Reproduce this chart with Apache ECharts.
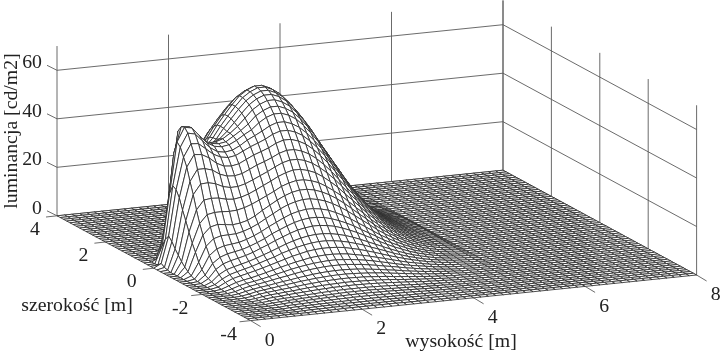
<!DOCTYPE html>
<html>
<head>
<meta charset="utf-8">
<script src="https://cdn.jsdelivr.net/npm/echarts@6/dist/echarts.min.js"></script>
<style>
html,body{margin:0;padding:0;background:#fff;}
#chart{width:720px;height:352px;}
</style>
</head>
<body>
<div id="chart"></div>
<script>
var heightTicks=[0,2,4,6,8];
var widthTicks=[4,2,0,-2,-4];
var lumTicks=[0,20,40,60];
var lumTop=70;
var heightSteps=60;
var widthSteps=60;

//luminance, one row per width (4 down to -4, step 8/60), one value per height step (8/60), missing tail = 0
var r00=[];
var r01=[0,0,0,0,0,0,0,0,0,0,0,0,0,0,0,0,0,0.3,0.8,1,0.9,0.9,0.8,0.8,0.7,0.6,0.5,0.4,0.4,0.3,0.3,0.2,0.2,0.1,0.1];
var r02=[0,0,0,0,0,0,0,0,0,0,0,0,0,0,0,0,0.2,0.9,1.5,1.5,1.4,1.3,1.3,1.1,1,0.9,0.8,0.7,0.6,0.5,0.4,0.3,0.2,0.2,0.1,0.1];
var r03=[0,0,0,0,0,0,0,0,0,0,0,0,0,0,0,0,0.8,1.8,2.2,2.2,2.1,2,1.8,1.7,1.5,1.3,1.2,1,0.8,0.7,0.6,0.4,0.3,0.3,0.2,0.1,0.1,0.1];
var r04=[0,0,0,0,0,0,0,0,0,0,0,0,0,0,0,0.5,1.8,3,3,2.9,2.8,2.7,2.5,2.3,2.1,1.8,1.6,1.3,1.1,0.9,0.8,0.6,0.5,0.4,0.3,0.2,0.1,0.1,0.1];
var r05=[0,0,0,0,0,0,0,0,0,0,0,0,0,0,0.2,1.7,3.6,4.2,4.2,4.1,4,3.8,3.5,3.2,2.9,2.5,2.2,1.9,1.6,1.3,1.1,0.8,0.7,0.5,0.4,0.3,0.2,0.1,0.1];
var r06=[0,0,0,0,0,0,0,0,0,0,0,0,0,0,1.1,3.7,5.5,5.7,5.7,5.6,5.4,5.1,4.8,4.4,3.9,3.5,3,2.5,2.1,1.8,1.4,1.1,0.9,0.7,0.5,0.4,0.3,0.2,0.1];
var r07=[0,0,0,0,0,0,0,0,0,0,0,0,0,0.3,3.1,6.4,7.4,7.5,7.5,7.4,7.1,6.7,6.3,5.7,5.1,4.6,4,3.4,2.8,2.3,1.9,1.5,1.2,0.9,0.7,0.5,0.4,0.3,0.2];
var r08=[0,0,0,0,0,0,0,0,0,0,0,0,0,2.1,6.7,9.4,9.7,9.9,9.9,9.7,9.4,8.9,8.3,7.6,6.8,6,5.2,4.4,3.7,3.1,2.5,2,1.5,1.2,0.9,0.7,0.5,0.3,0.2];
var r09=[0,0,0,0,0,0,0,0,0,0,0,0,0.8,5.3,10.7,12,12.4,12.7,12.7,12.4,12,11.4,10.6,9.7,8.7,7.7,6.7,5.7,4.8,3.9,3.2,2.5,2,1.5,1.1,0.8,0.6,0.4,0.3];
var r10=[0,0,0,0,0,0,0,0,0,0,0,0,3.4,10,14.2,15.1,15.6,15.9,15.9,15.6,15.1,14.2,13.3,12.2,10.9,9.7,8.4,7.1,6,4.9,4,3.1,2.5,1.9,1.4,1,0.8,0.5,0.4];
var r11=[0,0,0,0,0,0,0,0,0,0,0,1.8,8.6,15.9,17.7,18.8,19.4,19.8,19.8,19.4,18.8,17.7,16.5,15.2,13.6,12,10.5,8.9,7.4,6.1,5,3.9,3.1,2.3,1.8,1.3,1,0.7,0.5];
var r12=[0,0,0,0,0,0,0,0,0,0,0,5.8,15.1,20,21.5,22.7,23.5,24,24,23.5,22.7,21.5,20,18.4,16.4,14.6,12.7,10.7,9,7.4,6,4.8,3.7,2.8,2.1,1.6,1.2,0.8,0.6];
var r13=[0,0,0,0,0,0,0,0,0,0,2.3,11.8,21.2,23.9,25.6,27.1,28,28.6,28.6,28,27.1,25.6,23.9,21.9,19.6,17.4,15.1,12.8,10.7,8.9,7.2,5.7,4.4,3.4,2.5,1.9,1.4,1,0.7];
var r14=[0,0,0,0,0,0,0,0,0,0,8,20.1,25.9,28.2,30.3,32,33.1,33.8,33.8,33.1,32,30.3,28.2,25.9,23.2,20.5,17.8,15.1,12.7,10.5,8.5,6.7,5.2,4,3,2.2,1.6,1.1,0.8];
var r15=[0,0,0,0,0,0,0,0,0,3.9,15.3,26.3,29.7,32.4,34.8,36.7,38,38.8,38.8,38,36.7,34.8,32.4,29.7,26.6,23.6,20.5,17.3,14.6,12,9.7,7.7,6,4.6,3.5,2.6,1.9,1.3,0.9];
var r16=[0,0,0,0,0,0,0,0,0.8,9.9,23.1,30,33.6,36.6,39.2,41.5,42.9,43.8,43.8,42.9,41.5,39.2,36.6,33.6,30,26.6,23.1,19.6,16.4,13.6,11,8.7,6.8,5.2,3.9,2.9,2.1,1.5,1.1];
var r17=[0,0,0,0,0,0,0,0,5.5,18.6,29.7,33.6,37.5,40.9,43.9,46.4,48,49,49,48,46.4,43.9,40.9,37.5,33.6,29.7,25.9,21.9,18.4,15.2,12.3,9.7,7.6,5.8,4.4,3.2,2.4,1.7,1.2];
var r18=[0,0,0,0,0,0,0,1.2,12.3,26.3,32.6,36.6,40.9,44.6,47.8,50.6,52.3,53.4,53.4,52.3,50.6,47.8,44.6,40.9,36.6,32.4,28.2,23.9,20,16.6,13.4,10.6,8.3,6.3,4.8,3.5,2.6,1.8,1.3];
var r19=[0,0,0,0,0,0,0,5.9,20.2,31.1,35.3,39.5,44,47.8,51.3,54.3,56.2,57.3,57.3,56.2,54.3,51.3,47.8,43.9,39.3,34.8,30.3,25.6,21.5,17.8,14.3,11.3,8.9,6.8,5.1,3.8,2.8,1.9,1.4];
var r20=[0,0,0,0,0,0,2.3,14.1,28.3,33.5,37.6,41.9,46.6,50.6,54.3,57.4,59.4,60.6,60.6,59.4,57.4,54.3,50.6,46.4,41.5,36.8,32,27.1,22.7,18.8,15.2,12,9.4,7.2,5.4,4,2.9,2.1,1.5];
var r21=[0,0,0,0,0,0,8,22.7,31.8,35.5,39.5,43.5,48.3,52.4,56.2,59.4,61.4,62.7,62.7,61.4,59.4,56.2,52.4,48,42.9,38.1,33.1,28,23.5,19.4,15.7,12.4,9.7,7.4,5.6,4.1,3,2.1,1.5];
var r22=[0,0,0,0,0,3.7,17.7,31.5,34.6,37.6,40.9,44.8,49.5,53.5,57.3,60.6,62.7,64,64,62.7,60.6,57.3,53.4,49,43.8,38.8,33.8,28.6,24,19.8,16,12.7,9.9,7.6,5.7,4.2,3.1,2.2,1.5];
var r23=[0,0,0,0,0,13.4,30.7,37,37.5,39.4,41.9,45.3,49.7,53.6,57.3,60.6,62.7,64,64,62.7,60.6,57.3,53.4,49,43.8,38.8,33.8,28.6,24,19.8,16,12.7,9.9,7.6,5.7,4.2,3.1,2.2,1.5];
var r24=[0,0,0,0,5.7,26.5,41.4,41.3,40.3,41,42.8,45.4,49.6,53.2,56.8,60,62.1,63.4,63.4,62.1,60,56.8,52.9,48.6,43.4,38.5,33.5,28.3,23.8,19.7,15.9,12.6,9.8,7.5,5.6,4.2,3,2.2,1.5];
var r25=[0,0,0,0,16.1,40.5,47.2,45.5,44,44,44.8,46.2,49,52.4,55.9,59.1,61.2,62.4,62.4,61.2,59.1,55.9,52.1,47.8,42.7,37.9,32.9,27.9,23.4,19.3,15.6,12.4,9.7,7.4,5.6,4.1,3,2.1,1.5];
var r26=[0,0,0,8.2,31.6,52.1,52.2,49.5,47,46,46,47,49,51.5,54.6,57.7,59.7,60.9,60.9,59.7,57.7,54.6,50.9,46.6,41.7,37,32.2,27.2,22.8,18.9,15.2,12.1,9.4,7.2,5.4,4,2.9,2.1,1.5];
var r27=[0,0,1.7,18,44,54.6,54.3,51,48,46.5,46,46.5,48.5,50.5,52.9,55.9,57.8,59,59,57.8,55.9,52.9,49.3,45.2,40.4,35.8,31.2,26.4,22.1,18.3,14.8,11.7,9.1,7,5.3,3.9,2.8,2,1.4];
var r28=[0,0,7,28.5,49.3,55.1,54.5,51,47.8,46,45.5,46,47.5,49.5,51.2,53.8,55.7,56.8,56.8,55.7,53.8,50.9,47.4,43.5,38.9,34.5,30,25.4,21.3,17.6,14.2,11.2,8.8,6.7,5.1,3.7,2.7,1.9,1.4];
var r29=[0,0.3,10.6,32.3,47.9,53.4,52.7,49.5,46.5,44.5,44,44.5,46,48,49.5,51.1,52.9,54,54,52.9,51.1,48.4,45.1,41.4,37,32.8,28.5,24.1,20.3,16.7,13.5,10.7,8.4,6.4,4.8,3.6,2.6,1.8,1.3];
var r30=[0,1.6,12.6,31.4,44.5,49.7,49.5,47,44.5,43,42.5,43,44.5,46,47.2,48.5,50.2,51.2,51.2,50.2,48.5,45.9,42.8,39.2,35.1,31.1,27,22.9,19.2,15.9,12.8,10.1,7.9,6,4.6,3.4,2.5,1.7,1.2];
var r31=[0,0.7,11,28.7,41.1,46,45.7,44,41.5,40,39.7,40.3,41.8,43.3,44.4,45.6,47.2,48.2,48.2,47.2,45.6,43.2,40.2,36.9,33,29.3,25.4,21.5,18.1,14.9,12.1,9.5,7.5,5.7,4.3,3.2,2.3,1.6,1.2];
var r32=[0,0.3,8.7,24.4,35.9,40.6,40.6,39.7,37.7,36.6,36.4,37,38.4,39.9,41,42.3,43.8,44.7,44.7,43.8,42.3,40.1,37.3,34.2,30.6,27.1,23.6,20,16.8,13.9,11.2,8.9,6.9,5.3,4,3,2.1,1.5,1.1];
var r33=[0,0,6.8,20.7,31.2,35.3,35.5,34.8,33.3,32.6,32.7,33.5,34.8,36.2,37.6,39.2,40.6,41.4,41.4,40.6,39.2,37.1,34.6,31.7,28.4,25.1,21.9,18.5,15.5,12.8,10.4,8.2,6.4,4.9,3.7,2.7,2,1.4,1];
var r34=[0,0,4.9,16.7,25.6,29.4,29.8,29.6,28.8,28.5,29,30,31.4,32.9,34.4,36,37.2,38,38,37.2,36,34,31.7,29.1,26,23.1,20.1,17,14.3,11.8,9.5,7.5,5.9,4.5,3.4,2.5,1.8,1.3,0.9];
var r35=[0,0,3.4,12.9,20.7,24.1,24.7,24.7,24.5,24.7,25.4,26.5,27.9,29.4,30.9,32.6,33.7,34.4,34.4,33.7,32.6,30.8,28.7,26.4,23.6,20.9,18.2,15.4,12.9,10.7,8.6,6.8,5.3,4.1,3.1,2.3,1.7,1.2,0.8];
var r36=[0,0,2.2,9.9,16.7,19.7,20.5,20.1,19.7,20.1,20.9,22.4,24.4,26.2,28,29.5,30.6,31.2,31.2,30.6,29.5,28,26.1,23.9,21.4,18.9,16.5,13.9,11.7,9.7,7.8,6.2,4.8,3.7,2.8,2.1,1.5,1.1,0.7];
var r37=[0,0,1.2,6.5,12.8,15.6,16.5,16.6,16.7,17.4,18.5,19.9,21.7,23.4,25.1,26.5,27.4,28,28,27.4,26.5,25.1,23.4,21.4,19.2,17,14.8,12.5,10.5,8.7,7,5.5,4.3,3.3,2.5,1.8,1.3,1,0.7];
var r38=[0,0,0.6,4.2,9.7,12.1,13.1,13.5,13.9,14.8,16,17.4,19.1,20.6,22.1,23.4,24.2,24.7,24.7,24.2,23.4,22.1,20.6,18.9,16.9,15,13,11,9.3,7.7,6.2,4.9,3.8,2.9,2.2,1.6,1.2,0.8,0.6];
var r39=[0,0,0.3,2.7,7.1,9.4,10.5,11.1,11.7,12.7,13.9,15.2,16.9,18.2,19.5,20.6,21.4,21.8,21.8,21.4,20.6,19.5,18.2,16.7,14.9,13.2,11.5,9.7,8.2,6.8,5.5,4.3,3.4,2.6,1.9,1.4,1,0.7,0.5];
var r40=[0,0,0.2,1.9,5.4,7.4,8.4,9.1,9.9,10.9,12.2,13.4,14.8,16,17.2,18.2,18.8,19.2,19.2,18.8,18.2,17.2,16,14.7,13.2,11.7,10.1,8.6,7.2,6,4.8,3.8,3,2.3,1.7,1.3,0.9,0.7,0.5];
var r41=[0,0,0,1.3,4,5.7,6.6,7.4,8.2,9.2,10.3,11.4,12.6,13.8,14.8,15.6,16.2,16.5,16.5,16.2,15.6,14.8,13.8,12.6,11.3,10,8.7,7.4,6.2,5.1,4.1,3.3,2.6,1.9,1.5,1.1,0.8,0.6,0.4];
var r42=[0,0,0,0.9,2.9,4.4,5.3,6.1,6.9,7.9,8.9,9.8,11,11.9,12.8,13.5,14,14.3,14.3,14,13.5,12.8,11.9,11,9.8,8.7,7.6,6.4,5.4,4.4,3.6,2.8,2.2,1.7,1.3,0.9,0.7,0.5,0.3];
var r43=[0,0,0,0.6,2.2,3.5,4.3,5,5.8,6.6,7.5,8.4,9.3,10.2,10.9,11.6,12,12.2,12.2,12,11.6,10.9,10.2,9.3,8.4,7.4,6.4,5.5,4.6,3.8,3.1,2.4,1.9,1.4,1.1,0.8,0.6,0.4,0.3];
var r44=[0,0,0,0.4,1.5,2.6,3.3,3.9,4.6,5.4,6.2,7,7.8,8.5,9.1,9.7,10,10.2,10.2,10,9.7,9.1,8.5,7.8,7,6.2,5.4,4.6,3.8,3.2,2.6,2,1.6,1.2,0.9,0.7,0.5,0.3,0.2];
var r45=[0,0,0,0.2,1,2,2.7,3.2,3.8,4.5,5.2,5.9,6.6,7.2,7.7,8.1,8.4,8.6,8.6,8.4,8.1,7.7,7.2,6.6,5.9,5.2,4.5,3.8,3.2,2.7,2.2,1.7,1.3,1,0.8,0.6,0.4,0.3,0.2];
var r46=[0,0,0,0.1,0.6,1.5,2.2,2.7,3.2,3.8,4.4,4.9,5.5,6,6.5,6.8,7.1,7.2,7.2,7.1,6.8,6.5,6,5.5,4.9,4.4,3.8,3.2,2.7,2.2,1.8,1.4,1.1,0.8,0.6,0.5,0.3,0.2,0.2];
var r47=[0,0,0,0,0.4,1.1,1.7,2.2,2.6,3.1,3.6,4,4.5,4.9,5.3,5.6,5.8,5.9,5.9,5.8,5.6,5.3,4.9,4.5,4,3.6,3.1,2.6,2.2,1.8,1.5,1.2,0.9,0.7,0.5,0.4,0.3,0.2,0.1];
var r48=[0,0,0,0,0.2,0.7,1.4,1.8,2.2,2.6,3,3.4,3.8,4.1,4.4,4.6,4.8,4.9,4.9,4.8,4.6,4.4,4.1,3.8,3.4,3,2.6,2.2,1.8,1.5,1.2,1,0.8,0.6,0.4,0.3,0.2,0.2,0.1];
var r49=[0,0,0,0,0.1,0.5,1.1,1.5,1.8,2.1,2.4,2.7,3.1,3.3,3.6,3.8,3.9,4,4,3.9,3.8,3.6,3.3,3.1,2.7,2.4,2.1,1.8,1.5,1.2,1,0.8,0.6,0.5,0.4,0.3,0.2,0.1,0.1];
var r50=[0,0,0,0,0,0.3,0.8,1.2,1.4,1.7,1.9,2.2,2.5,2.7,2.9,3,3.1,3.2,3.2,3.1,3,2.9,2.7,2.5,2.2,1.9,1.7,1.4,1.2,1,0.8,0.6,0.5,0.4,0.3,0.2,0.2,0.1,0.1];
var r51=[0,0,0,0,0,0.2,0.6,0.9,1.1,1.4,1.6,1.8,2,2.2,2.3,2.5,2.5,2.6,2.6,2.5,2.5,2.3,2.2,2,1.8,1.6,1.4,1.1,1,0.8,0.7,0.5,0.4,0.3,0.2,0.2,0.1,0.1];
var r52=[0,0,0,0,0,0.1,0.4,0.7,0.9,1,1.2,1.4,1.5,1.7,1.8,1.9,2,2,2,2,1.9,1.8,1.7,1.5,1.4,1.2,1,0.9,0.7,0.6,0.5,0.4,0.3,0.2,0.2,0.1,0.1];
var r53=[0,0,0,0,0,0,0.3,0.5,0.7,0.8,1,1.1,1.2,1.3,1.4,1.5,1.6,1.6,1.6,1.6,1.5,1.4,1.3,1.2,1.1,1,0.8,0.7,0.6,0.5,0.4,0.3,0.2,0.2,0.1,0.1];
var r54=[0,0,0,0,0,0,0.2,0.4,0.6,0.7,0.8,0.9,1,1.1,1.2,1.2,1.3,1.3,1.3,1.3,1.2,1.2,1.1,1,0.9,0.8,0.7,0.6,0.5,0.4,0.3,0.3,0.2,0.2,0.1,0.1];
var r55=[0,0,0,0,0,0,0,0.3,0.4,0.5,0.6,0.7,0.8,0.8,0.9,0.9,1,1,1,1,0.9,0.9,0.8,0.8,0.7,0.6,0.5,0.4,0.4,0.3,0.3,0.2,0.2,0.1,0.1];
var r56=[0,0,0,0,0,0,0,0.2,0.3,0.4,0.4,0.5,0.5,0.6,0.6,0.7,0.7,0.7,0.7,0.7,0.7,0.6,0.6,0.5,0.5,0.4,0.4,0.3,0.3,0.2,0.2,0.1,0.1,0.1];
var r57=[0,0,0,0,0,0,0,0,0.2,0.3,0.3,0.4,0.4,0.4,0.5,0.5,0.5,0.5,0.5,0.5,0.5,0.4,0.4,0.4,0.3,0.3,0.3,0.2,0.2,0.1,0.1,0.1];
var r58=[0,0,0,0,0,0,0,0,0.1,0.2,0.2,0.2,0.3,0.3,0.3,0.3,0.3,0.3,0.3,0.3,0.3,0.3,0.3,0.2,0.2,0.2,0.2,0.1,0.1,0.1];
var r59=[0,0,0,0,0,0,0,0,0,0.1,0.1,0.1,0.1,0.2,0.2,0.2,0.2,0.2,0.2,0.2,0.2,0.1,0.1,0.1,0.1,0.1];
var r60=[];
var lumRows=[r00,r01,r02,r03,r04,r05,r06,r07,r08,r09,r10,
	r11,r12,r13,r14,r15,r16,r17,r18,r19,r20,
	r21,r22,r23,r24,r25,r26,r27,r28,r29,r30,
	r31,r32,r33,r34,r35,r36,r37,r38,r39,r40,
	r41,r42,r43,r44,r45,r46,r47,r48,r49,r50,
	r51,r52,r53,r54,r55,r56,r57,r58,r59,r60];

//parallel projection of the box, measured on the picture
var originPx=[57,215.8];
var heightPx=[55.75,-5.7];   //per metre of height
var widthPx=[-24.2,-13.1];   //per metre of width
var lumPx=2.425;             //per cd/m2

var font='19.8px "Liberation Serif","Times New Roman",serif';
var lineColor='#5a5a5a';
var meshColor='#2e2e2e';

function project(h,w,lum){
	return [
		originPx[0]+h*heightPx[0]+(w-4)*widthPx[0],
		originPx[1]+h*heightPx[1]+(w-4)*widthPx[1]-lum*lumPx
	];
}

function lumAt(i,j){
	return lumRows[i][j]||0;
}

//walls: h1,w1,l1,h2,w2,l2
var wallLines=[];
heightTicks.forEach(function(h){
	wallLines.push([h,4,0,h,4,lumTop]);
});
widthTicks.forEach(function(w){
	wallLines.push([8,w,0,8,w,lumTop]);
});
lumTicks.forEach(function(l){
	wallLines.push([0,4,l,8,4,l]);
	wallLines.push([8,4,l,8,-4,l]);
});

//far quads first, so the nearer ones cover them
var quads=[];
for(var i=0;i<widthSteps;i++){
	for(var j=heightSteps-1;j>=0;j--){
		quads.push([i,j]);
	}
}

function renderQuad(params,api){
	var i=api.value(0),j=api.value(1);
	var dh=8/heightSteps,dw=8/widthSteps;
	var corners=[[i,j],[i,j+1],[i+1,j+1],[i+1,j]];
	var pts=corners.map(function(c){
		return api.coord(project(c[1]*dh,4-c[0]*dw,lumAt(c[0],c[1])));
	});
	return {
		type:'polygon',
		shape:{points:pts},
		style:{fill:'#fff',stroke:meshColor,lineWidth:0.85},
		silent:true
	};
}

function renderWall(params,api){
	var a=api.coord(project(api.value(0),api.value(1),api.value(2)));
	var b=api.coord(project(api.value(3),api.value(4),api.value(5)));
	return {
		type:'line',
		shape:{x1:a[0],y1:a[1],x2:b[0],y2:b[1]},
		style:{stroke:lineColor,lineWidth:0.9},
		silent:true
	};
}

//ticks stick out of the box by a pixel offset
var marks=[];
lumTicks.forEach(function(l){
	marks.push({at:[0,4,l],tick:[-10,-5],label:[-15,-7],text:String(l),align:'right'});
});
widthTicks.forEach(function(w){
	marks.push({at:[0,w,0],tick:[-11,1.2],label:[-22,14],text:String(w),align:'center'});
});
heightTicks.forEach(function(h){
	marks.push({at:[h,-4,0],tick:[10,6],label:[19,20],text:String(h),align:'center'});
});

function renderMark(params,api){
	var m=marks[params.dataIndex];
	var p=api.coord(project(m.at[0],m.at[1],m.at[2]));
	return {
		type:'group',
		children:[
			{type:'line',shape:{x1:p[0],y1:p[1],x2:p[0]+m.tick[0],y2:p[1]+m.tick[1]},style:{stroke:lineColor,lineWidth:0.9}},
			{type:'text',x:p[0]+m.label[0],y:p[1]+m.label[1],style:{text:m.text,font:font,fill:'#222',textAlign:m.align,textVerticalAlign:'middle'}}
		],
		silent:true
	};
}

var chart=echarts.init(document.getElementById('chart'));
chart.setOption({
	animation:false,
	backgroundColor:'#fff',
	grid:{left:0,right:0,top:0,bottom:0},
	xAxis:{type:'value',min:0,max:720,show:false},
	yAxis:{type:'value',min:0,max:352,inverse:true,show:false},
	graphic:[
		{type:'text',x:12,y:131,rotation:Math.PI/2,style:{text:'luminancja [cd/m2]',font:font,fill:'#222',textAlign:'center',textVerticalAlign:'middle'},silent:true},
		{type:'text',x:77,y:306,style:{text:'szerokość [m]',font:font,fill:'#222',textAlign:'center',textVerticalAlign:'middle'},silent:true},
		{type:'text',x:461,y:342,style:{text:'wysokość [m]',font:font,fill:'#222',textAlign:'center',textVerticalAlign:'middle'},silent:true}
	],
	series:[
		{type:'custom',name:'walls',z:1,coordinateSystem:'cartesian2d',renderItem:renderWall,data:wallLines,encode:{x:0,y:1},clip:false},
		{type:'custom',name:'marks',z:1,coordinateSystem:'cartesian2d',renderItem:renderMark,data:marks.map(function(m,k){return [k,k];}),encode:{x:0,y:1},clip:false},
		{type:'custom',name:'luminance',z:2,coordinateSystem:'cartesian2d',renderItem:renderQuad,data:quads,encode:{x:0,y:1},progressive:0,clip:false}
	]
});
</script>
</body>
</html>
